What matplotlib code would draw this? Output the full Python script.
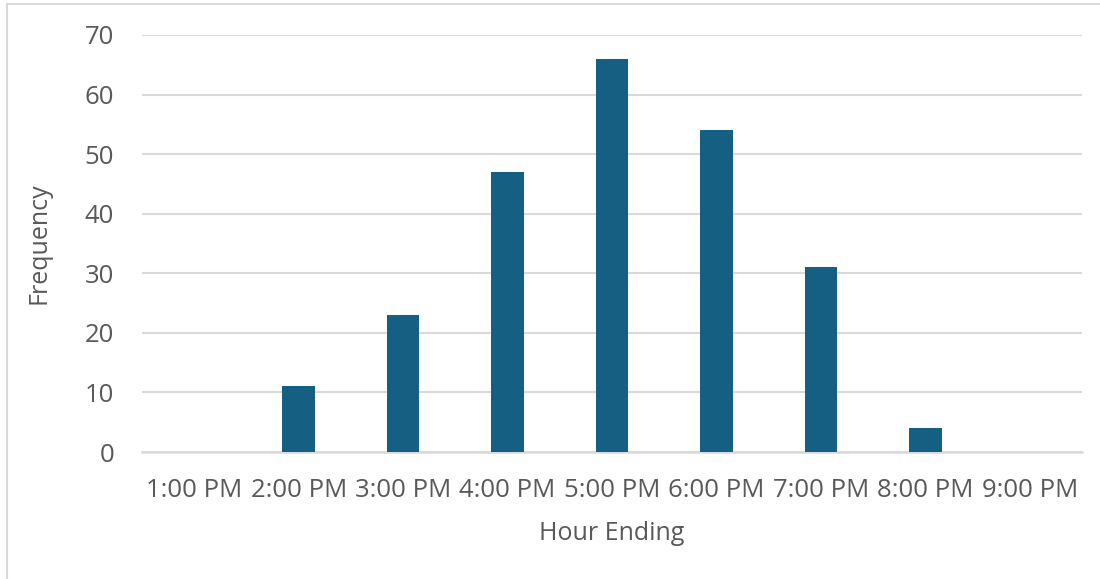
import matplotlib
matplotlib.use('Agg')
import matplotlib.pyplot as plt
from matplotlib.patches import Rectangle
import numpy as np

hours = ['1:00 PM', '2:00 PM', '3:00 PM', '4:00 PM', '5:00 PM',
         '6:00 PM', '7:00 PM', '8:00 PM', '9:00 PM']
frequency = [0, 11, 23, 47, 66, 54, 31, 4, 0]
yticks = [0, 10, 20, 30, 40, 50, 60, 70]

text_color = '#595959'
grid_color = '#D9D9D9'
bar_color = '#156082'

plt.rcParams['font.family'] = ['Open Sans', 'DejaVu Sans']

W, H = 1100, 579
fig = plt.figure(figsize=(W / 100, H / 100), dpi=100)

# chart frame, runs off the right and bottom edge
fig.patches.append(Rectangle((7 / W, -0.1), 1.2, 1.1 - 4 / H,
                             transform=fig.transFigure, fill=False,
                             edgecolor=grid_color, linewidth=1.5))

ax = fig.add_axes([142 / W, 1 - 452 / H, (1082 - 142) / W, (452 - 35) / H])
x = np.arange(len(hours))
ax.bar(x, frequency, width=0.31, color=bar_color, zorder=3)

ax.set_xlim(-0.5, len(hours) - 0.5)
ax.set_ylim(0, 70)
ax.set_yticks(yticks)
ax.set_xticks(x)
ax.set_xticklabels(hours)
ax.yaxis.grid(True, color=grid_color, linewidth=1.5, zorder=0)
ax.set_axisbelow(True)

for s in ['top', 'right', 'left']:
    ax.spines[s].set_visible(False)
ax.spines['bottom'].set_color(grid_color)
ax.spines['bottom'].set_linewidth(1.8)

ax.tick_params(axis='both', length=0, labelsize=18.5, colors=text_color)
ax.tick_params(axis='y', pad=20)
ax.tick_params(axis='x', pad=19)

ax.set_xlabel('Hour Ending', fontsize=18, color=text_color, labelpad=13)
ax.set_ylabel('Frequency', fontsize=18, color=text_color, labelpad=24)

fig.savefig('out.png', dpi=100)
